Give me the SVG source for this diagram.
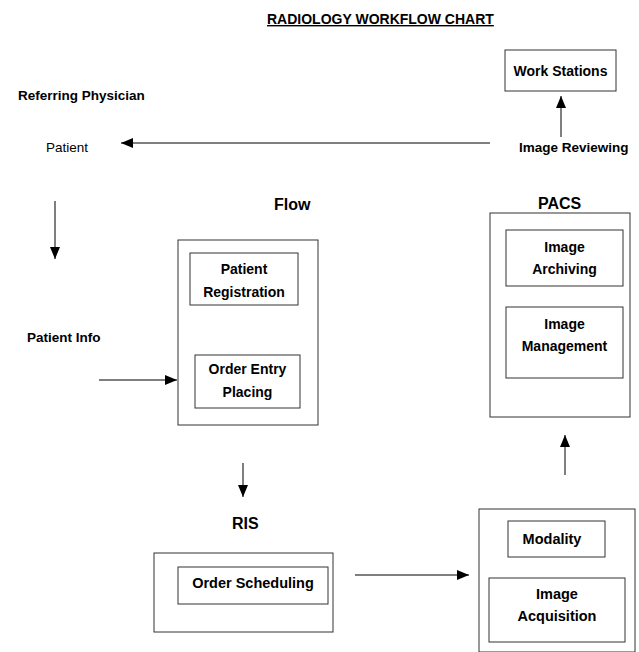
<svg xmlns="http://www.w3.org/2000/svg" width="639" height="652" viewBox="0 0 639 652">
<style>
text{font-family:"Liberation Sans",Arial,sans-serif;fill:#000}
.b{font-weight:bold;font-size:13.5px}
.t{font-weight:bold;font-size:14px}
.h{font-weight:bold;font-size:16px}
.n{font-size:13.5px}
.m{text-anchor:middle}
rect{fill:#fff;stroke:#333;stroke-width:1}
.c line{stroke:#000;stroke-width:1}
</style>
<defs>
<marker id="ah" viewBox="0 0 12 10" refX="12" refY="5" markerWidth="12" markerHeight="10" markerUnits="userSpaceOnUse" orient="auto">
<path d="M0,0 L12,5 L0,10 z" fill="#000"/>
</marker>
</defs>
<rect x="0" y="0" width="639" height="652" style="stroke:none"/>
<g id="title">
<text class="t" x="267" y="24" style="text-decoration:underline">RADIOLOGY WORKFLOW CHART</text>
</g>
<g id="referring-physician"><text class="b" x="18" y="100">Referring Physician</text></g>
<g id="patient"><text class="n" x="46" y="152">Patient</text></g>
<g id="image-reviewing"><text class="b" x="519" y="152">Image Reviewing</text></g>
<g id="patient-info"><text class="b" x="27" y="342">Patient Info</text></g>
<g id="work-stations">
<rect x="505" y="50" width="111" height="41"/>
<text class="t m" x="560.5" y="76">Work Stations</text>
</g>
<g id="flow">
<text class="h" x="274" y="210">Flow</text>
<rect x="178" y="240" width="140" height="185"/>
<g id="patient-registration">
<rect x="190" y="253" width="108" height="52"/>
<text class="t m" x="244" y="274">Patient</text>
<text class="t m" x="244" y="297">Registration</text>
</g>
<g id="order-entry">
<rect x="195" y="355" width="105" height="53"/>
<text class="t m" x="247.5" y="374">Order Entry</text>
<text class="t m" x="247.5" y="397">Placing</text>
</g>
</g>
<g id="ris">
<text class="h" x="232" y="529">RIS</text>
<rect x="154" y="553" width="179" height="79"/>
<g id="order-scheduling">
<rect x="178" y="567" width="150" height="37"/>
<text class="t m" x="253" y="588" style="font-size:14.5px">Order Scheduling</text>
</g>
</g>
<g id="modality-group">
<rect x="479" y="509" width="156" height="143"/>
<g id="modality">
<rect x="508" y="521" width="97" height="36"/>
<text class="t m" x="552" y="544" style="font-size:14.5px">Modality</text>
</g>
<g id="image-acquisition">
<rect x="489" y="578" width="136" height="64"/>
<text class="t m" x="557" y="599" style="font-size:14.5px">Image</text>
<text class="t m" x="557" y="621" style="font-size:14.5px">Acquisition</text>
</g>
</g>
<g id="pacs">
<text class="h" x="538" y="209">PACS</text>
<rect x="490" y="213" width="140" height="204"/>
<g id="image-archiving">
<rect x="506" y="230" width="117" height="56"/>
<text class="t m" x="564.5" y="252">Image</text>
<text class="t m" x="564.5" y="274">Archiving</text>
</g>
<g id="image-management">
<rect x="506" y="307" width="117" height="71"/>
<text class="t m" x="564.5" y="329">Image</text>
<text class="t m" x="564.5" y="351">Management</text>
</g>
</g>
<g id="connectors" class="c">
<line x1="490" y1="143" x2="121" y2="143" marker-end="url(#ah)"/>
<line x1="561" y1="137" x2="561" y2="96" marker-end="url(#ah)"/>
<line x1="55" y1="201" x2="55" y2="259" marker-end="url(#ah)"/>
<line x1="99" y1="380" x2="177" y2="380" marker-end="url(#ah)"/>
<line x1="243" y1="463" x2="243" y2="497" marker-end="url(#ah)"/>
<line x1="355" y1="575" x2="469" y2="575" marker-end="url(#ah)"/>
<line x1="565" y1="475" x2="565" y2="435" marker-end="url(#ah)"/>
</g>
</svg>
